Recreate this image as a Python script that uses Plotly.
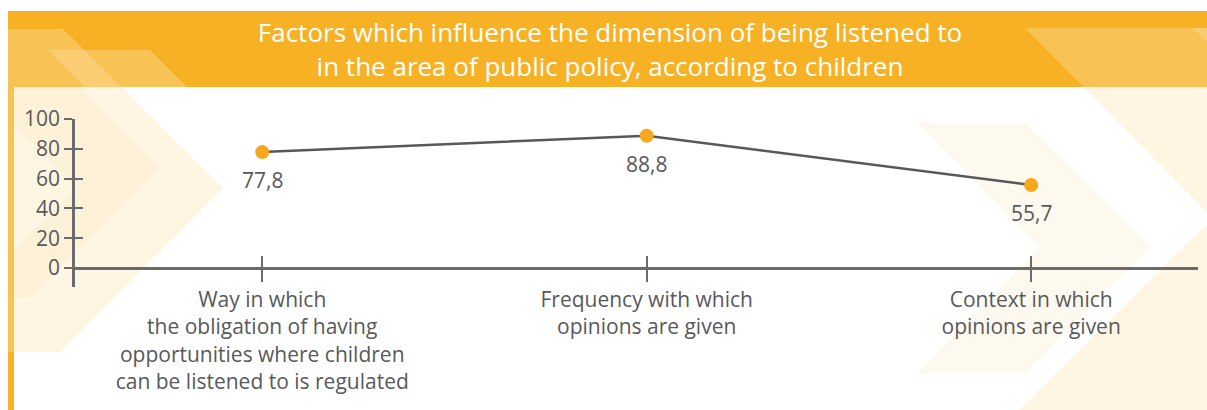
import plotly.graph_objects as go

# ---- data ----
categories = [
    "Way in which<br>the obligation of having<br>opportunities where children<br>can be listened to is regulated",
    "Frequency with which<br>opinions are given",
    "Context in which<br>opinions are given",
]
values = [77.8, 88.8, 55.7]
y_ticks = [0, 20, 40, 60, 80, 100]
title_text = ("Factors which influence the dimension of being listened to<br>"
              "in the area of public policy, according to children")

# ---- styling ----
W, H = 1207, 410
ML, MR, MT, MB = 75, 9, 119, 123
ORANGE = "#F7B124"
MARK = "#F6A91D"
GREY = "#6B6B6D"
TEXT = "#58595B"
FONT = "Open Sans"
FS = 21
YMIN = -12.75

pw = W - ML - MR
ph = H - MT - MB


def px(x):
    return (x - ML) / pw


def py(y):
    return (H - MB - y) / ph


def poly(pts, fill):
    d = "M " + " L ".join(f"{px(x):.5f},{py(y):.5f}" for x, y in pts) + " Z"
    return dict(type="path", xref="paper", yref="paper", path=d,
                fillcolor=fill, line=dict(width=0), layer="below")


def rect(x0, y0, x1, y1, fill):
    return dict(type="rect", xref="paper", yref="paper",
                x0=px(x0), x1=px(x1), y0=py(y1), y1=py(y0),
                fillcolor=fill, line=dict(width=0), layer="below")


OV = "rgba(252,226,176,0.35)"
OV_L = "rgba(252,226,176,0.22)"
shapes = [
    rect(8, 11, 1210, 87, ORANGE),
    rect(8, 87, 14, 412, ORANGE),
    # left decorative chevrons
    poly([(8, 29), (63, 29), (223, 188), (60, 352), (8, 352)], OV),
    poly([(48, 50), (150, 50), (187, 87), (85, 87)], OV),
    poly([(14, 87), (79, 87), (160, 168), (30, 298), (14, 298), (14, 250), (77, 187), (14, 124)], OV_L),
    # right decorative chevrons
    poly([(918, 123), (1025, 123), (1150, 247), (1025, 373), (918, 373), (1040, 247)], OV_L),
    poly([(1025, 28), (1210, 28), (1210, 412), (1017, 412), (1213, 218)], OV),
    poly([(1193, 28), (1210, 28), (1210, 45)], OV),
]

fig = go.Figure()
fig.add_trace(go.Scatter(
    x=categories, y=values, mode="lines+markers",
    line=dict(color="#58585A", width=2.5),
    marker=dict(color=MARK, size=14),
    hoverinfo="skip", showlegend=False, cliponaxis=False,
))
# invisible helper trace to carry the inner tick marks
fig.add_trace(go.Scatter(
    x=categories, y=values, xaxis="x2", yaxis="y2", mode="markers",
    marker=dict(opacity=0), hoverinfo="skip", showlegend=False,
))

# value labels under the points
for c, v in zip(categories, values):
    fig.add_annotation(x=c, y=v, xref="x", yref="y", showarrow=False,
                       text=f"{v:.1f}".replace(".", ","), yshift=-28,
                       font=dict(family=FONT, size=FS, color=TEXT))

xr = [-0.487, 2.434]
fig.update_layout(
    width=W, height=H,
    margin=dict(l=ML, r=MR, t=MT, b=MB),
    paper_bgcolor="white", plot_bgcolor="rgba(0,0,0,0)",
    shapes=shapes,
    title=dict(text=title_text, x=610 / W, xref="container", xanchor="center",
               y=1 - 42 / H, yref="container", yanchor="middle",
               font=dict(family=FONT, size=26, color="white")),
    xaxis=dict(type="category", range=xr, anchor="free",
               position=-YMIN / (100 - YMIN),
               showline=True, linecolor=GREY, linewidth=2.5,
               ticks="outside", ticklen=12, tickwidth=2, tickcolor=GREY,
               showgrid=False, zeroline=False,
               tickfont=dict(family=FONT, size=FS, color=TEXT)),
    xaxis2=dict(type="category", range=xr, overlaying="x", anchor="free",
                position=-YMIN / (100 - YMIN),
                showline=False, ticks="inside", ticklen=12, tickwidth=2,
                tickcolor=GREY, showticklabels=False, showgrid=False,
                zeroline=False),
    yaxis=dict(range=[YMIN, 100], tickvals=y_ticks,
               showline=True, linecolor=GREY, linewidth=2.5,
               ticks="outside", ticklen=8, tickwidth=2, tickcolor=GREY,
               showgrid=False, zeroline=False,
               tickfont=dict(family=FONT, size=FS, color=TEXT)),
    yaxis2=dict(range=[YMIN, 100], tickvals=y_ticks, overlaying="y",
                side="left", showline=False,
                ticks="inside", ticklen=8, tickwidth=2, tickcolor=GREY,
                showticklabels=False, showgrid=False, zeroline=False),
)

fig.write_html(
    "out.html",
    config={"displayModeBar": False},
    post_script="document.body.style.margin='0';document.body.style.overflow='hidden';",
)
